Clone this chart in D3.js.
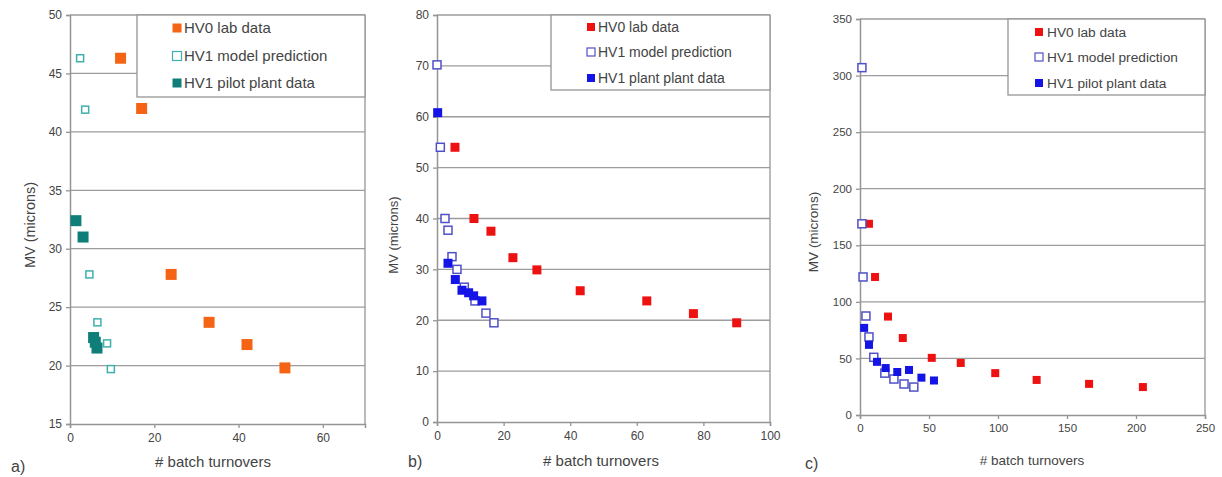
<!DOCTYPE html>
<html>
<head>
<meta charset="utf-8">
<script src="https://cdn.jsdelivr.net/npm/d3@7"></script>
<style>
  body { margin: 0; background: #fff; }
  svg { display: block; }
  text { font-family: "Liberation Sans", Arial, sans-serif; fill: #444; }
</style>
</head>
<body>
<svg id="chart" width="1222" height="477"></svg>
<script>
// ---- Panel a: HV0 lab vs HV1 model / pilot plant ----
const aLab   = [[12, 46.3], [17, 42.0], [24, 27.8], [33, 23.7], [42, 21.8], [51, 19.8]];
const aModel = [[2.4, 46.3], [3.6, 41.9], [4.6, 27.8], [6.5, 23.7], [8.8, 21.9], [9.7, 19.7]];
const aPilot = [[1.4, 32.4], [3.1, 31.0], [5.6, 22.4], [6.0, 22.0], [6.4, 21.5]];
const aXTicks = [0, 20, 40, 60];
const aYTicks = [15, 20, 25, 30, 35, 40, 45, 50];
const aNames = ["HV0 lab data", "HV1 model prediction", "HV1 pilot plant data"];

// ---- Panel b ----
const bLab   = [[5.4, 54.0], [11.1, 40.0], [16.2, 37.5], [22.8, 32.3], [30.0, 29.9], [43.0, 25.8], [63.0, 23.8], [77.0, 21.3], [90.0, 19.5]];
const bModel = [[0.0, 70.2], [1.0, 54.0], [2.4, 40.0], [3.3, 37.7], [4.5, 32.5], [6.0, 30.0], [8.2, 26.5], [11.4, 23.8], [14.7, 21.4], [17.1, 19.5]];
const bPilot = [[0.2, 60.8], [3.3, 31.2], [5.5, 28.0], [7.5, 25.9], [9.5, 25.4], [11.0, 24.8], [13.5, 23.8]];
const bXTicks = [0, 20, 40, 60, 80, 100];
const bYTicks = [0, 10, 20, 30, 40, 50, 60, 70, 80];
const bNames = ["HV0 lab data", "HV1 model prediction", "HV1 plant plant data"];

// ---- Panel c ----
const cLab   = [[6.5, 169], [10.9, 122], [20.3, 87], [31, 68], [52, 50.5], [73, 46], [98, 37], [128, 31], [166, 27.5], [205, 24.7]];
const cModel = [[1.4, 307], [1.4, 169], [2.2, 122], [4.3, 87.5], [6.5, 69], [10, 51], [18, 37], [24.6, 31.8], [31.9, 27.4], [39, 24.7]];
const cPilot = [[3, 77], [6.5, 62], [12.3, 47], [18.6, 41.5], [27, 38], [35.5, 39.8], [44.5, 33], [53.6, 30.5]];
const cXTicks = [0, 50, 100, 150, 200, 250];
const cYTicks = [0, 50, 100, 150, 200, 250, 300, 350];
const cNames = ["HV0 lab data", "HV1 model prediction", "HV1 pilot plant data"];

const xTitle = "# batch turnovers";
const yTitle = "MV (microns)";

// Layout and styling of each panel
const panels = [
  {
    tag: "a)", tagX: 11, tagY: 472,
    frame: { l: 70, r: 365, t: 15, b: 424 }, xDom: [0, 70], yDom: [15, 50],
    xTicks: aXTicks, yTicks: aYTicks, names: aNames,
    series: [aLab, aModel, aPilot],
    styles: [
      { fill: "#f46414", stroke: "none", size: 11 },
      { fill: "#fff", stroke: "#3fb0ae", size: 7 },
      { fill: "#107e78", stroke: "none", size: 11 }
    ],
    legend: { l: 137, r: 365, t: 15, b: 97, mx: 177, tx: 184, ys: [28, 56, 83], ms: 9, fs: 15 },
    xFs: 15, yFs: 14.5, tickFs: 12,
    xTitleX: 213, xTitleY: 467, yTitleX: 30, yTitleY: 225
  },
  {
    tag: "b)", tagX: 408, tagY: 467,
    frame: { l: 437, r: 770, t: 15, b: 422 }, xDom: [0, 100], yDom: [0, 80],
    xTicks: bXTicks, yTicks: bYTicks, names: bNames,
    series: [bLab, bModel, bPilot],
    styles: [
      { fill: "#ee1111", stroke: "none", size: 9 },
      { fill: "#fff", stroke: "#5050c8", size: 8 },
      { fill: "#1414e6", stroke: "none", size: 9 }
    ],
    legend: { l: 551, r: 770, t: 15, b: 90, mx: 591, tx: 598, ys: [27, 52, 78], ms: 8, fs: 14 },
    xFs: 15, yFs: 13, tickFs: 12,
    xTitleX: 601, xTitleY: 466, yTitleX: 393, yTitleY: 235
  },
  {
    tag: "c)", tagX: 805, tagY: 469,
    frame: { l: 860, r: 1205, t: 19, b: 415 }, xDom: [0, 250], yDom: [0, 350],
    xTicks: cXTicks, yTicks: cYTicks, names: cNames,
    series: [cLab, cModel, cPilot],
    styles: [
      { fill: "#ee1111", stroke: "none", size: 8 },
      { fill: "#fff", stroke: "#5050c8", size: 8 },
      { fill: "#1414e6", stroke: "none", size: 8 }
    ],
    legend: { l: 1008, r: 1205, t: 19, b: 95, mx: 1039, tx: 1047, ys: [32, 57, 83], ms: 8, fs: 13.7 },
    xFs: 13.5, yFs: 13.5, tickFs: 11.5,
    xTitleX: 1032, xTitleY: 465, yTitleX: 813, yTitleY: 232
  }
];

const svg = d3.select("#chart");
const gridColor = "#9c9c9c";
const axisColor = "#959595";

panels.forEach(p => {
  const f = p.frame;
  const x = d3.scaleLinear().domain(p.xDom).range([f.l, f.r]);
  const y = d3.scaleLinear().domain(p.yDom).range([f.b, f.t]);
  const g = svg.append("g");

  // horizontal gridlines
  g.append("g").selectAll("line").data(p.yTicks.filter(v => v !== p.yDom[0])).join("line")
    .attr("x1", f.l).attr("x2", f.r)
    .attr("y1", d => y(d)).attr("y2", d => y(d))
    .attr("stroke", gridColor).attr("stroke-width", 1.3);

  // right border
  g.append("line").attr("x1", f.r).attr("x2", f.r).attr("y1", f.t).attr("y2", f.b)
    .attr("stroke", axisColor).attr("stroke-width", 1.3);

  // axes
  const yAxis = d3.axisLeft(y).tickValues(p.yTicks).tickSize(4).tickPadding(4).tickFormat(d3.format("d"));
  const xAxis = d3.axisBottom(x).tickValues(p.xTicks).tickSize(4).tickPadding(5).tickFormat(d3.format("d"));
  const ya = g.append("g").attr("transform", `translate(${f.l},0)`).call(yAxis);
  const xa = g.append("g").attr("transform", `translate(0,${f.b})`).call(xAxis);
  [ya, xa].forEach(a => {
    a.select(".domain").attr("stroke", axisColor).attr("stroke-width", 1.5);
    a.selectAll(".tick line").attr("stroke", axisColor).attr("stroke-width", 1.3);
    a.selectAll(".tick text").attr("font-size", p.tickFs).attr("fill", "#555")
      .attr("font-family", "\"Liberation Sans\", Arial, sans-serif");
  });

  // legend box
  const L = p.legend;
  g.append("rect").attr("x", L.l).attr("y", L.t).attr("width", L.r - L.l).attr("height", L.b - L.t)
    .attr("fill", "#fff").attr("stroke", axisColor).attr("stroke-width", 1.3);

  // markers
  p.series.forEach((s, i) => {
    const st = p.styles[i];
    const hollow = st.stroke !== "none";
    g.append("g").selectAll("rect").data(s).join("rect")
      .attr("x", d => x(d[0]) - st.size / 2)
      .attr("y", d => y(d[1]) - st.size / 2)
      .attr("width", st.size).attr("height", st.size)
      .attr("fill", st.fill)
      .attr("stroke", st.stroke)
      .attr("stroke-width", hollow ? 1.5 : 0);
  });

  // legend entries
  p.names.forEach((name, i) => {
    const st = p.styles[i];
    const hollow = st.stroke !== "none";
    g.append("rect")
      .attr("x", L.mx - L.ms / 2).attr("y", L.ys[i] - L.ms / 2)
      .attr("width", L.ms).attr("height", L.ms)
      .attr("fill", st.fill).attr("stroke", st.stroke).attr("stroke-width", hollow ? 1.2 : 0);
    g.append("text").attr("x", L.tx).attr("y", L.ys[i]).attr("dy", "0.35em")
      .attr("font-size", L.fs).text(name);
  });

  // axis titles
  g.append("text").attr("x", p.xTitleX).attr("y", p.xTitleY).attr("text-anchor", "middle")
    .attr("font-size", p.xFs).text(xTitle);
  g.append("text").attr("transform", `translate(${p.yTitleX},${p.yTitleY}) rotate(-90)`)
    .attr("text-anchor", "middle").attr("dy", "0.35em").attr("font-size", p.yFs).text(yTitle);

  // panel tag
  g.append("text").attr("x", p.tagX).attr("y", p.tagY).attr("font-size", 16).attr("fill", "#333").text(p.tag);
});
</script>
</body>
</html>
